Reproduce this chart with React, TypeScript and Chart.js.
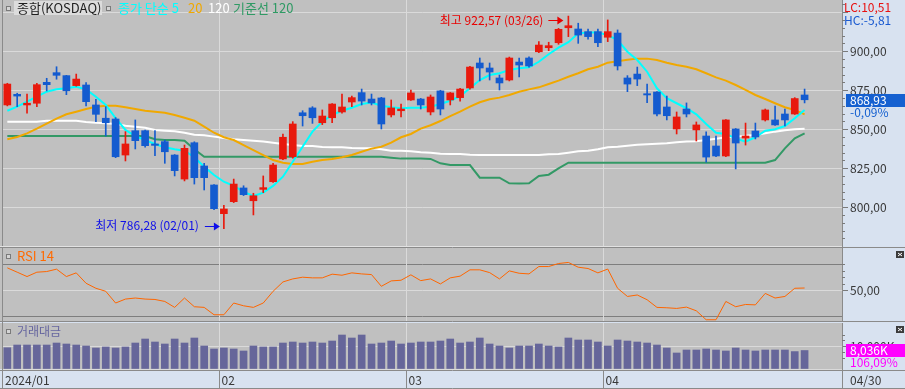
import React, { useEffect, useRef } from "react";
import { Chart, registerables } from "chart.js";

Chart.register(...registerables);

// ---------------- DATA ----------------
const dates = [
  "01/02","01/03","01/04","01/05","01/08","01/09","01/10","01/11","01/12","01/15","01/16","01/17","01/18","01/19","01/22","01/23","01/24","01/25","01/26","01/29","01/30","01/31",
  "02/01","02/02","02/05","02/06","02/07","02/08","02/13","02/14","02/15","02/16","02/19","02/20","02/21","02/22","02/23","02/26","02/27","02/28","02/29",
  "03/04","03/05","03/06","03/07","03/08","03/11","03/12","03/13","03/14","03/15","03/18","03/19","03/20","03/21","03/22","03/25","03/26","03/27","03/28","03/29",
  "04/01","04/02","04/03","04/04","04/05","04/08","04/09","04/11","04/12","04/15","04/16","04/17","04/18","04/19","04/22","04/23","04/24","04/25","04/26","04/29","04/30",
];
const monthLabels = ["2024/01", "02", "03", "04"];

const open = [
  865.6, 872.4, 865.6, 866.7, 880.1, 886.3, 884.4, 878.0, 878.4, 865.6,
  857.1, 856.6, 833.5, 849.1, 849.1, 840.6, 842.1, 833.5, 818.1, 841.4,
  826.5, 814.3, 795.9, 803.6, 812.4, 804.2, 811.5, 816.4, 831.0, 832.4,
  860.6, 863.7, 854.2, 857.4, 861.1, 867.5, 873.5, 869.4, 870.1, 859.2,
  861.9, 868.8, 869.4, 861.1, 874.6, 868.8, 870.3, 876.5, 892.5, 889.3,
  882.9, 881.6, 893.1, 895.7, 899.7, 902.3, 905.5, 915.1, 914.3, 912.6,
  912.6, 909.0, 911.7, 882.9, 885.4, 872.8, 873.9, 864.3, 850.2, 863.0,
  849.6, 845.7, 839.3, 832.9, 850.2, 844.4, 848.9, 856.0, 856.0, 859.8,
  859.8, 872.0,
];
const high = [
  879.5, 873.1, 872.6, 879.5, 882.7, 890.1, 884.6, 885.4, 879.9, 869.2,
  864.5, 857.5, 848.5, 856.0, 849.5, 849.1, 843.1, 833.8, 839.9, 842.0,
  828.2, 814.6, 801.3, 818.1, 813.8, 809.0, 820.1, 828.2, 847.0, 854.9,
  861.9, 864.5, 862.4, 866.5, 872.6, 871.3, 875.8, 872.6, 870.5, 868.8,
  866.2, 875.2, 869.8, 872.0, 875.0, 873.6, 876.2, 890.3, 895.7, 892.5,
  884.8, 896.3, 895.7, 896.5, 906.2, 905.8, 914.7, 922.57, 918.0, 914.3,
  914.3, 920.1, 913.7, 884.4, 889.9, 879.0, 874.2, 871.3, 861.1, 866.9,
  854.7, 848.3, 845.7, 856.3, 850.5, 854.0, 854.0, 863.0, 864.9, 863.0,
  870.3, 875.8,
];
const low = [
  865.0, 864.5, 860.3, 864.5, 874.6, 882.1, 872.2, 877.6, 865.0, 854.9,
  845.7, 831.8, 829.7, 837.4, 838.5, 833.1, 828.2, 820.1, 816.9, 814.9,
  811.1, 798.5, 786.28, 803.0, 807.5, 795.1, 809.4, 816.0, 830.5, 831.5,
  852.1, 853.8, 853.0, 854.2, 860.3, 864.5, 865.6, 865.6, 850.2, 857.9,
  857.9, 868.5, 863.0, 859.2, 859.2, 865.6, 868.1, 875.8, 881.0, 881.6,
  875.2, 881.0, 883.5, 889.9, 899.1, 900.4, 904.5, 909.4, 905.1, 907.7,
  903.0, 906.2, 888.0, 874.1, 878.0, 867.1, 858.5, 856.0, 847.0, 857.9,
  842.5, 829.0, 832.5, 832.5, 824.6, 839.9, 843.8, 855.3, 852.5, 852.1,
  859.5, 866.9,
];
const close = [
  879.0, 871.3, 866.7, 878.6, 878.6, 884.6, 874.7, 882.2, 867.7, 859.6,
  854.2, 832.4, 840.6, 842.7, 839.5, 839.7, 835.6, 823.5, 837.8, 819.0,
  819.0, 799.1, 798.9, 814.9, 808.1, 807.4, 812.6, 827.1, 844.9, 853.4,
  858.7, 857.4, 858.5, 866.2, 864.3, 870.3, 868.1, 866.9, 853.4, 863.7,
  863.0, 873.3, 865.6, 870.7, 863.0, 873.3, 875.8, 889.9, 889.3, 886.7,
  879.7, 895.7, 891.2, 890.6, 904.0, 903.6, 914.1, 916.4, 910.4, 909.4,
  905.5, 912.6, 890.6, 879.0, 882.2, 872.0, 859.8, 858.7, 857.9, 859.8,
  852.8, 832.2, 832.9, 856.0, 841.2, 845.7, 845.1, 862.4, 852.8, 856.0,
  869.71, 868.93,
];
// 종가 단순 5
const ma5 = [
  861.9, 864.5, 867.7, 870.9, 874.1, 875.6, 876.3, 877.3, 875.6, 870.9,
  865.6, 857.1, 849.6, 845.7, 843.1, 840.6, 838.5, 837.2, 836.3, 832.1,
  826.0, 820.7, 816.4, 813.7, 810.0, 807.2, 809.4, 813.7, 819.6, 829.2,
  838.8, 848.5, 854.9, 859.2, 861.9, 863.8, 866.2, 867.1, 865.1, 864.1,
  863.5, 863.8, 863.8, 864.5, 866.2, 868.3, 871.3, 876.3, 881.6, 884.8,
  885.9, 888.0, 889.1, 889.7, 893.3, 898.1, 902.3, 905.8, 911.5, 912.0,
  912.0, 910.4, 907.2, 899.7, 894.4, 886.9, 876.3, 869.9, 866.7, 863.5,
  859.6, 853.4, 847.8, 847.0, 844.2, 842.1, 844.9, 849.1, 850.0, 852.1,
  857.1, 862.4,
];
// 20
const ma20 = [
  843.6, 845.1, 847.4, 850.4, 853.6, 856.8, 859.6, 861.3, 863.0, 864.5,
  865.1, 865.1, 864.1, 863.0, 861.9, 861.3, 860.6, 859.2, 857.4, 855.5,
  851.7, 847.8, 844.9, 843.1, 839.9, 836.7, 833.5, 830.3, 828.6, 827.8,
  827.8, 829.2, 830.3, 831.0, 832.1, 833.5, 835.6, 837.6, 838.8, 841.4,
  844.9, 847.0, 850.4, 852.6, 855.3, 858.5, 861.3, 864.5, 867.3, 869.2,
  870.3, 872.0, 874.1, 875.6, 876.9, 879.0, 881.2, 883.7, 885.9, 888.5,
  890.1, 892.7, 893.6, 894.6, 895.3, 895.3, 894.4, 892.7, 891.2, 890.1,
  888.5, 885.9, 883.3, 881.2, 878.4, 875.2, 872.0, 869.4, 866.7, 864.1,
  862.4, 859.6,
];
// 120
const ma120 = [
  854.9, 854.9, 854.9, 854.9, 855.5, 855.5, 855.5, 855.5, 854.7, 854.2,
  853.8, 853.4, 852.3, 851.7, 851.0, 849.6, 849.1, 848.7, 847.8, 846.5,
  846.2, 845.3, 844.4, 843.6, 843.1, 842.7, 842.1, 841.4, 840.6, 839.9,
  839.3, 839.3, 838.7, 838.5, 838.5, 838.0, 837.8, 837.8, 837.2, 836.3,
  836.3, 835.9, 835.3, 835.0, 834.4, 834.2, 834.2, 833.7, 833.5, 833.5,
  833.5, 833.5, 833.5, 833.5, 833.5, 834.0, 834.2, 835.0, 835.9, 836.3,
  837.2, 838.5, 838.8, 839.5, 840.1, 840.4, 840.8, 841.0, 841.7, 842.1,
  842.3, 843.1, 844.0, 844.9, 845.3, 845.9, 846.3, 847.4, 848.5, 849.4,
  850.0, 850.4,
];
// 기준선 120
const base120 = [
  845.7, 845.7, 845.7, 845.7, 845.7, 845.7, 845.7, 845.7, 845.7, 845.7,
  845.7, 845.7, 845.7, 845.7, 845.7, 843.6, 843.1, 843.1, 842.7, 837.2,
  832.4, 832.4, 832.4, 832.4, 832.4, 832.4, 832.4, 832.4, 832.4, 832.4,
  832.4, 832.4, 832.4, 832.4, 832.4, 832.4, 832.4, 832.4, 832.4, 831.8,
  831.2, 831.2, 831.2, 831.0, 828.2, 827.1, 827.1, 827.1, 819.0, 819.0,
  819.0, 815.4, 815.2, 815.4, 820.1, 820.9, 825.0, 828.6, 828.6, 828.6,
  828.6, 828.6, 828.6, 828.6, 828.6, 828.6, 828.6, 828.6, 828.6, 828.6,
  828.6, 828.6, 828.6, 828.6, 828.6, 828.6, 828.6, 828.6, 830.3, 837.8,
  844.2, 847.4,
];
// RSI 14
const rsi14 = [
  67.3, 64.0, 60.7, 64.0, 64.5, 66.3, 60.7, 63.5, 55.6, 51.8,
  49.5, 40.6, 43.6, 44.4, 43.6, 43.3, 41.8, 37.3, 44.4, 37.8,
  37.3, 31.7, 31.7, 40.6, 38.5, 37.3, 40.6, 49.5, 56.6, 58.9,
  60.2, 59.7, 59.7, 62.5, 61.7, 63.5, 62.7, 62.2, 53.3, 57.4,
  57.9, 62.0, 57.6, 58.9, 55.1, 59.7, 61.0, 65.8, 65.8, 63.7,
  58.9, 65.0, 63.2, 62.7, 68.3, 68.3, 70.6, 71.4, 67.8, 66.8,
  63.5, 66.4, 51.8, 45.6, 46.7, 43.1, 37.3, 37.0, 36.5, 37.5,
  34.7, 27.9, 27.9, 41.8, 37.8, 39.5, 39.2, 47.9, 44.4, 45.6,
  51.8, 52.0,
];
// 거래대금 (K)
const tradeValue = [
  9260, 10430, 10430, 10430, 10430, 11300, 10870, 10430, 10000, 9130,
  9570, 9130, 9570, 11300, 13040, 11740, 10870, 13040, 11300, 13480,
  10000, 8700, 9130, 8700, 7830, 10000, 9570, 9570, 11300, 11740,
  11300, 11740, 11300, 12170, 14780, 13480, 14780, 10870, 11300, 12170,
  10870, 11300, 11740, 11740, 12170, 13040, 11300, 11740, 13480, 10870,
  10000, 9130, 10000, 10000, 10870, 10000, 9570, 13480, 12610, 12610,
  11740, 10000, 12610, 12170, 11740, 11300, 10430, 9130, 6960, 8260,
  8260, 8700, 8260, 7830, 9130, 8260, 7830, 8260, 8260, 8260,
  7575, 8036,
];
const priceTicks = [800, 825, 850, 875, 900, 925];
const rsiTicks = [30, 50, 70];
const volumeTicks = [0, 10000];

// ---------------- STYLE ----------------
const FONT = '"Noto Sans CJK KR", "DejaVu Sans", sans-serif';
const W = 905;
const AXIS_W = 63;
const PLOT_BG = "#c0c0c0";
const AXIS_BG = "#d8e2f0";
const GRID = "#dadada";
const FRAME = "#8a8a8a";
const TEXT = "#383838";
const UP = "#e8190d";
const DOWN = "#145bcf";
const X_MIN = -0.44;
const X_MAX = 84.8;

const idx = dates.map((_, i) => i);
const monthBoundaries = idx.filter((i) => i > 0 && dates[i].slice(0, 2) !== dates[i - 1].slice(0, 2));
const monthStarts = [0, ...monthBoundaries];

const fmt2 = (v: number) => (v < 0 ? "-" : "") + Math.abs(v).toFixed(2).replace(".", ",");
const fmtK = (v: number) => Math.round(v).toString().replace(/\B(?=(\d{3})+(?!\d))/g, ",") + "K";

function hline(ctx: any, x0: number, x1: number, y: number, color: string) {
  ctx.strokeStyle = color;
  ctx.lineWidth = 1;
  ctx.beginPath();
  ctx.moveTo(x0, y);
  ctx.lineTo(x1, y);
  ctx.stroke();
}
function vline(ctx: any, x: number, y0: number, y1: number, color: string) {
  ctx.strokeStyle = color;
  ctx.lineWidth = 1;
  ctx.beginPath();
  ctx.moveTo(x, y0);
  ctx.lineTo(x, y1);
  ctx.stroke();
}
function text(ctx: any, s: string, x: number, y: number, color: string, size = 12, align = "left") {
  ctx.font = `${size}px ${FONT}`;
  ctx.fillStyle = color;
  ctx.textAlign = align;
  ctx.textBaseline = "middle";
  ctx.fillText(s, x, y);
}
function icon(ctx: any, x: number, y: number) {
  ctx.fillStyle = "#d4d4d4";
  ctx.fillRect(x, y, 5, 5);
  ctx.strokeStyle = "#7a7a7a";
  ctx.lineWidth = 1;
  ctx.strokeRect(x + 0.5, y + 0.5, 4, 4);
}
function cornerIcon(ctx: any, x: number, y: number) {
  ctx.fillStyle = "#3c3c3c";
  ctx.fillRect(x, y, 8, 7);
  ctx.strokeStyle = "#ffffff";
  ctx.lineWidth = 1;
  ctx.beginPath();
  ctx.moveTo(x + 2, y + 2);
  ctx.lineTo(x + 6, y + 5);
  ctx.moveTo(x + 6, y + 2);
  ctx.lineTo(x + 2, y + 5);
  ctx.stroke();
}
function arrow(ctx: any, x0: number, tip: number, y: number, color: string) {
  ctx.strokeStyle = color;
  ctx.fillStyle = color;
  ctx.lineWidth = 1;
  const yy = Math.round(y) + 0.5;
  ctx.beginPath();
  ctx.moveTo(x0, yy);
  ctx.lineTo(tip - 4, yy);
  ctx.stroke();
  ctx.beginPath();
  ctx.moveTo(tip, yy);
  ctx.lineTo(tip - 6, yy - 4);
  ctx.lineTo(tip - 6, yy + 4);
  ctx.closePath();
  ctx.fill();
}

function paintBackground(chart: any) {
  const { ctx, chartArea: ca, width, height } = chart;
  ctx.save();
  ctx.fillStyle = AXIS_BG;
  ctx.fillRect(0, 0, width, height);
  ctx.fillStyle = PLOT_BG;
  ctx.fillRect(0, ca.top, ca.right, ca.bottom - ca.top);
  ctx.restore();
}
function paintMonthLines(chart: any, y0: number, y1: number, color: string) {
  const xs = chart.scales.x;
  const ctx = chart.ctx;
  ctx.save();
  monthBoundaries.forEach((i) => {
    const x = Math.round(xs.getPixelForValue(i - 0.5)) + 0.5;
    vline(ctx, x, y0, y1, color);
  });
  ctx.restore();
}
function paintMinorTicks(chart: any, values: number[]) {
  const ys = chart.scales.y;
  const ctx = chart.ctx;
  ctx.save();
  values.forEach((v) => {
    const y = Math.round(ys.getPixelForValue(v)) + 0.5;
    hline(ctx, ys.left, ys.left + 3, y, "#7a7a7a");
  });
  ctx.restore();
}

function yAxis(min: number, max: number, ticks: number[], label: (v: number) => string, gridColor: (v: number) => string, tickColor: (v: number) => string) {
  return {
    position: "right",
    min,
    max,
    afterBuildTicks: (s: any) => {
      s.ticks = ticks.map((v) => ({ value: v }));
    },
    afterFit: (s: any) => {
      s.width = AXIS_W;
      s.paddingTop = 0;
      s.paddingBottom = 0;
    },
    grid: {
      color: (c: any) => gridColor(c.tick ? c.tick.value : 0),
      lineWidth: 1,
      drawTicks: true,
      tickLength: 6,
      tickColor: (c: any) => tickColor(c.tick ? c.tick.value : 0),
    },
    border: { display: true, color: FRAME, width: 1 },
    ticks: {
      autoSkip: false,
      padding: 2,
      color: TEXT,
      font: { size: 12, family: FONT },
      callback: (v: any) => label(Number(v)),
    },
  };
}
const xAxis = { type: "linear", min: X_MIN, max: X_MAX, display: false, offset: false };
const barCommon = { grouped: false, barPercentage: 1, categoryPercentage: 1 };
const lineCommon = { pointRadius: 0, borderWidth: 2, tension: 0, fill: false };
const baseOptions = {
  responsive: false,
  maintainAspectRatio: false,
  animation: false,
  devicePixelRatio: 1,
  events: [],
  plugins: { legend: { display: false }, tooltip: { enabled: false } },
};

export default function App() {
  const mainRef = useRef<HTMLCanvasElement>(null);
  const rsiRef = useRef<HTMLCanvasElement>(null);
  const volRef = useRef<HTMLCanvasElement>(null);

  useEffect(() => {
    Chart.defaults.font.family = FONT;
    const last = close.length - 1;
    const candleColors = idx.map((i) => (close[i] >= open[i] ? UP : DOWN));
    const lineData = (arr: number[]) => idx.map((i) => ({ x: i, y: arr[i] }));

    // ---------- main price panel ----------
    const mainDecor = {
      id: "mainDecor",
      beforeDraw: (chart: any) => paintBackground(chart),
      beforeDatasetsDraw: (chart: any) => paintMonthLines(chart, chart.chartArea.top, chart.chartArea.bottom, GRID),
      afterDraw: (chart: any) => {
        const { ctx, chartArea: ca } = chart;
        const xs = chart.scales.x;
        const ys = chart.scales.y;
        ctx.save();
        const minor: number[] = [];
        for (let v = 780; v <= 930; v += 5) if (v % 25 !== 0) minor.push(v);
        paintMinorTicks(chart, minor);
        // frames
        vline(ctx, 2.5, 0, ca.bottom, FRAME);
        hline(ctx, 0, ca.right, ca.bottom - 0.5, "#e2e2e2");
        hline(ctx, 0, W, ca.bottom + 0.5, FRAME);
        // legend row
        icon(ctx, 6, 6);
        ctx.fillStyle = "#dcdcdc";
        ctx.fillRect(14, 1, 88, 14);
        text(ctx, "종합(KOSDAQ)", 17, 8.5, "#1e1e1e", 13);
        icon(ctx, 106, 6);
        text(ctx, "종가 단순 5", 118, 8.5, "#00ffff", 13);
        text(ctx, "20", 188, 8.5, "#f0a800", 13);
        text(ctx, "120", 208, 8.5, "#ffffff", 13);
        text(ctx, "기준선 120", 233, 8.5, "#2f9a64", 13);
        // high / low annotations
        let hi = 0;
        let lo = 0;
        idx.forEach((i) => {
          if (high[i] > high[hi]) hi = i;
          if (low[i] < low[lo]) lo = i;
        });
        const hx = xs.getPixelForValue(hi) - 5;
        const hy = ys.getPixelForValue(high[hi]) + 4;
        arrow(ctx, hx - 15, hx, hy, "#e80000");
        text(ctx, `최고 ${fmt2(high[hi])} (${dates[hi]})`, hx - 20, hy, "#e80000", 12, "right");
        const lx = xs.getPixelForValue(lo) - 4;
        const ly = ys.getPixelForValue(low[lo]) - 3;
        arrow(ctx, lx - 15, lx, ly, "#1010e8");
        text(ctx, `최저 ${fmt2(low[lo])} (${dates[lo]})`, lx - 21, ly, "#1010e8", 12, "right");
        // LC / HC
        const lc = (close[last] / low[lo] - 1) * 100;
        const hc = (close[last] / high[hi] - 1) * 100;
        text(ctx, `LC:${fmt2(lc)}`, 844, 7, "#e81010", 12);
        text(ctx, `HC:${fmt2(hc)}`, 844, 20, "#1a5ad0", 12);
        // current price box
        const py = ys.getPixelForValue(close[last]);
        ctx.fillStyle = "#1560d0";
        ctx.fillRect(846, Math.round(py) - 6, W - 846, 13);
        text(ctx, fmt2(close[last]), 850, Math.round(py) + 0.5, "#ffffff", 12);
        const chg = (close[last] / close[last - 1] - 1) * 100;
        text(ctx, `${fmt2(chg)}%`, 850, Math.round(py) + 12, "#1560d0", 12);
        ctx.restore();
      },
    };

    const main = new Chart(mainRef.current as HTMLCanvasElement, {
      type: "bar",
      data: {
        datasets: [
          { type: "bar", label: "body", data: idx.map((i) => ({ x: i, y: [open[i], close[i]] })), backgroundColor: candleColors, maxBarThickness: 7, order: 0, ...barCommon },
          { type: "bar", label: "wick", data: idx.map((i) => ({ x: i, y: [low[i], high[i]] })), backgroundColor: candleColors, maxBarThickness: 1, order: 1, ...barCommon },
          { type: "line", label: "종가 단순 5", data: lineData(ma5), borderColor: "#00ffff", order: 2, ...lineCommon },
          { type: "line", label: "20", data: lineData(ma20), borderColor: "#f0a800", order: 3, ...lineCommon },
          { type: "line", label: "120", data: lineData(ma120), borderColor: "#ffffff", order: 4, ...lineCommon },
          { type: "line", label: "기준선 120", data: lineData(base120), borderColor: "#339966", order: 5, ...lineCommon },
        ] as any,
      },
      options: {
        ...baseOptions,
        layout: { padding: { left: 3, right: 0, top: 0, bottom: 1 } },
        scales: {
          x: xAxis,
          y: yAxis(774.55, 932.88, priceTicks, (v) => (v === 925 ? "" : fmt2(v)), () => GRID, () => "#7a7a7a"),
        },
      } as any,
      plugins: [mainDecor],
    });

    // ---------- RSI panel ----------
    const rsiDecor = {
      id: "rsiDecor",
      beforeDraw: (chart: any) => paintBackground(chart),
      beforeDatasetsDraw: (chart: any) => paintMonthLines(chart, chart.chartArea.top, chart.chartArea.bottom, GRID),
      afterDraw: (chart: any) => {
        const { ctx, chartArea: ca } = chart;
        ctx.save();
        paintMinorTicks(chart, [55, 60, 65, 70]);
        vline(ctx, 2.5, 0, ca.bottom, FRAME);
        hline(ctx, 0, W, ca.bottom + 0.5, FRAME);
        icon(ctx, 6, 6);
        text(ctx, "RSI 14", 17, 8.5, "#ff6a00", 13);
        cornerIcon(ctx, 896, 3);
        ctx.restore();
      },
    };
    const rsi = new Chart(rsiRef.current as HTMLCanvasElement, {
      type: "line",
      data: {
        datasets: [{ label: "RSI 14", data: lineData(rsi14), borderColor: "#ff6600", pointRadius: 0, borderWidth: 1, tension: 0 }] as any,
      },
      options: {
        ...baseOptions,
        layout: { padding: { left: 3, right: 0, top: 0, bottom: 1 } },
        scales: {
          x: xAxis,
          y: yAxis(26.96, 82.37, rsiTicks, (v) => (v === 50 ? fmt2(v) : ""), (v) => (v === 50 ? GRID : "#7e7e7e"), (v) => (v === 50 ? "#7a7a7a" : "rgba(0,0,0,0)")),
        },
      } as any,
      plugins: [rsiDecor],
    });

    // ---------- 거래대금 panel + date axis ----------
    const volDecor = {
      id: "volDecor",
      beforeDraw: (chart: any) => paintBackground(chart),
      beforeDatasetsDraw: (chart: any) => paintMonthLines(chart, chart.chartArea.top, chart.chartArea.bottom, GRID),
      afterDraw: (chart: any) => {
        const { ctx, chartArea: ca, height } = chart;
        const xs = chart.scales.x;
        const ys = chart.scales.y;
        ctx.save();
        paintMinorTicks(chart, [5000, 7500, 12500, 15000]);
        vline(ctx, 2.5, 0, height, FRAME);
        icon(ctx, 6, 7);
        text(ctx, "거래대금", 17, 9.5, "#66669f", 12);
        cornerIcon(ctx, 896, 4);
        // current value box
        const vy = Math.round(ys.getPixelForValue(tradeValue[last]));
        ctx.fillStyle = "#ff00ff";
        ctx.fillRect(846, vy - 7, W - 846, 13);
        text(ctx, fmtK(tradeValue[last]), 850, vy - 0.5, "#ffffff", 12);
        const ratio = (tradeValue[last] / tradeValue[last - 1]) * 100;
        text(ctx, `${fmt2(ratio)}%`, 850, vy + 11, "#ff00ff", 12);
        // date strip
        const top = ca.bottom + 1;
        ctx.fillStyle = AXIS_BG;
        ctx.fillRect(3, top, W - 3, height - top);
        hline(ctx, 0, W, top + 0.5, FRAME);
        hline(ctx, 0, W, height - 0.5, FRAME);
        vline(ctx, Math.round(xs.right) + 0.5, top, height, FRAME);
        monthStarts.forEach((i, k) => {
          let x = 5;
          if (i > 0) {
            x = Math.round(xs.getPixelForValue(i - 0.5)) + 0.5;
            vline(ctx, x, top, height, FRAME);
            x += 2;
          }
          text(ctx, monthLabels[k], x, top + 10, TEXT, 12);
        });
        text(ctx, dates[last], 850, top + 10, TEXT, 12);
        ctx.restore();
      },
    };
    const vol = new Chart(volRef.current as HTMLCanvasElement, {
      type: "bar",
      data: {
        datasets: [{ label: "거래대금", data: idx.map((i) => ({ x: i, y: tradeValue[i] })), backgroundColor: "#66669a", maxBarThickness: 7, ...barCommon }] as any,
      },
      options: {
        ...baseOptions,
        layout: { padding: { left: 3, right: 0, top: 1, bottom: 20 } },
        scales: {
          x: xAxis,
          y: yAxis(0, 20000, volumeTicks, (v) => (v === 10000 ? fmtK(v) : ""), () => GRID, (v) => (v === 10000 ? "#7a7a7a" : "rgba(0,0,0,0)")),
        },
      } as any,
      plugins: [volDecor],
    });

    return () => {
      main.destroy();
      rsi.destroy();
      vol.destroy();
    };
  }, []);

  const cv = (top: number, h: number): React.CSSProperties => ({ position: "absolute", left: 0, top, width: W, height: h, display: "block" });
  return (
    <div style={{ position: "absolute", left: 0, top: 0, width: W, height: 389, overflow: "hidden", background: AXIS_BG }}>
      <canvas ref={mainRef} width={W} height={248} style={cv(0, 248)} />
      <canvas ref={rsiRef} width={W} height={74} style={cv(248, 74)} />
      <canvas ref={volRef} width={W} height={67} style={cv(322, 67)} />
    </div>
  );
}
